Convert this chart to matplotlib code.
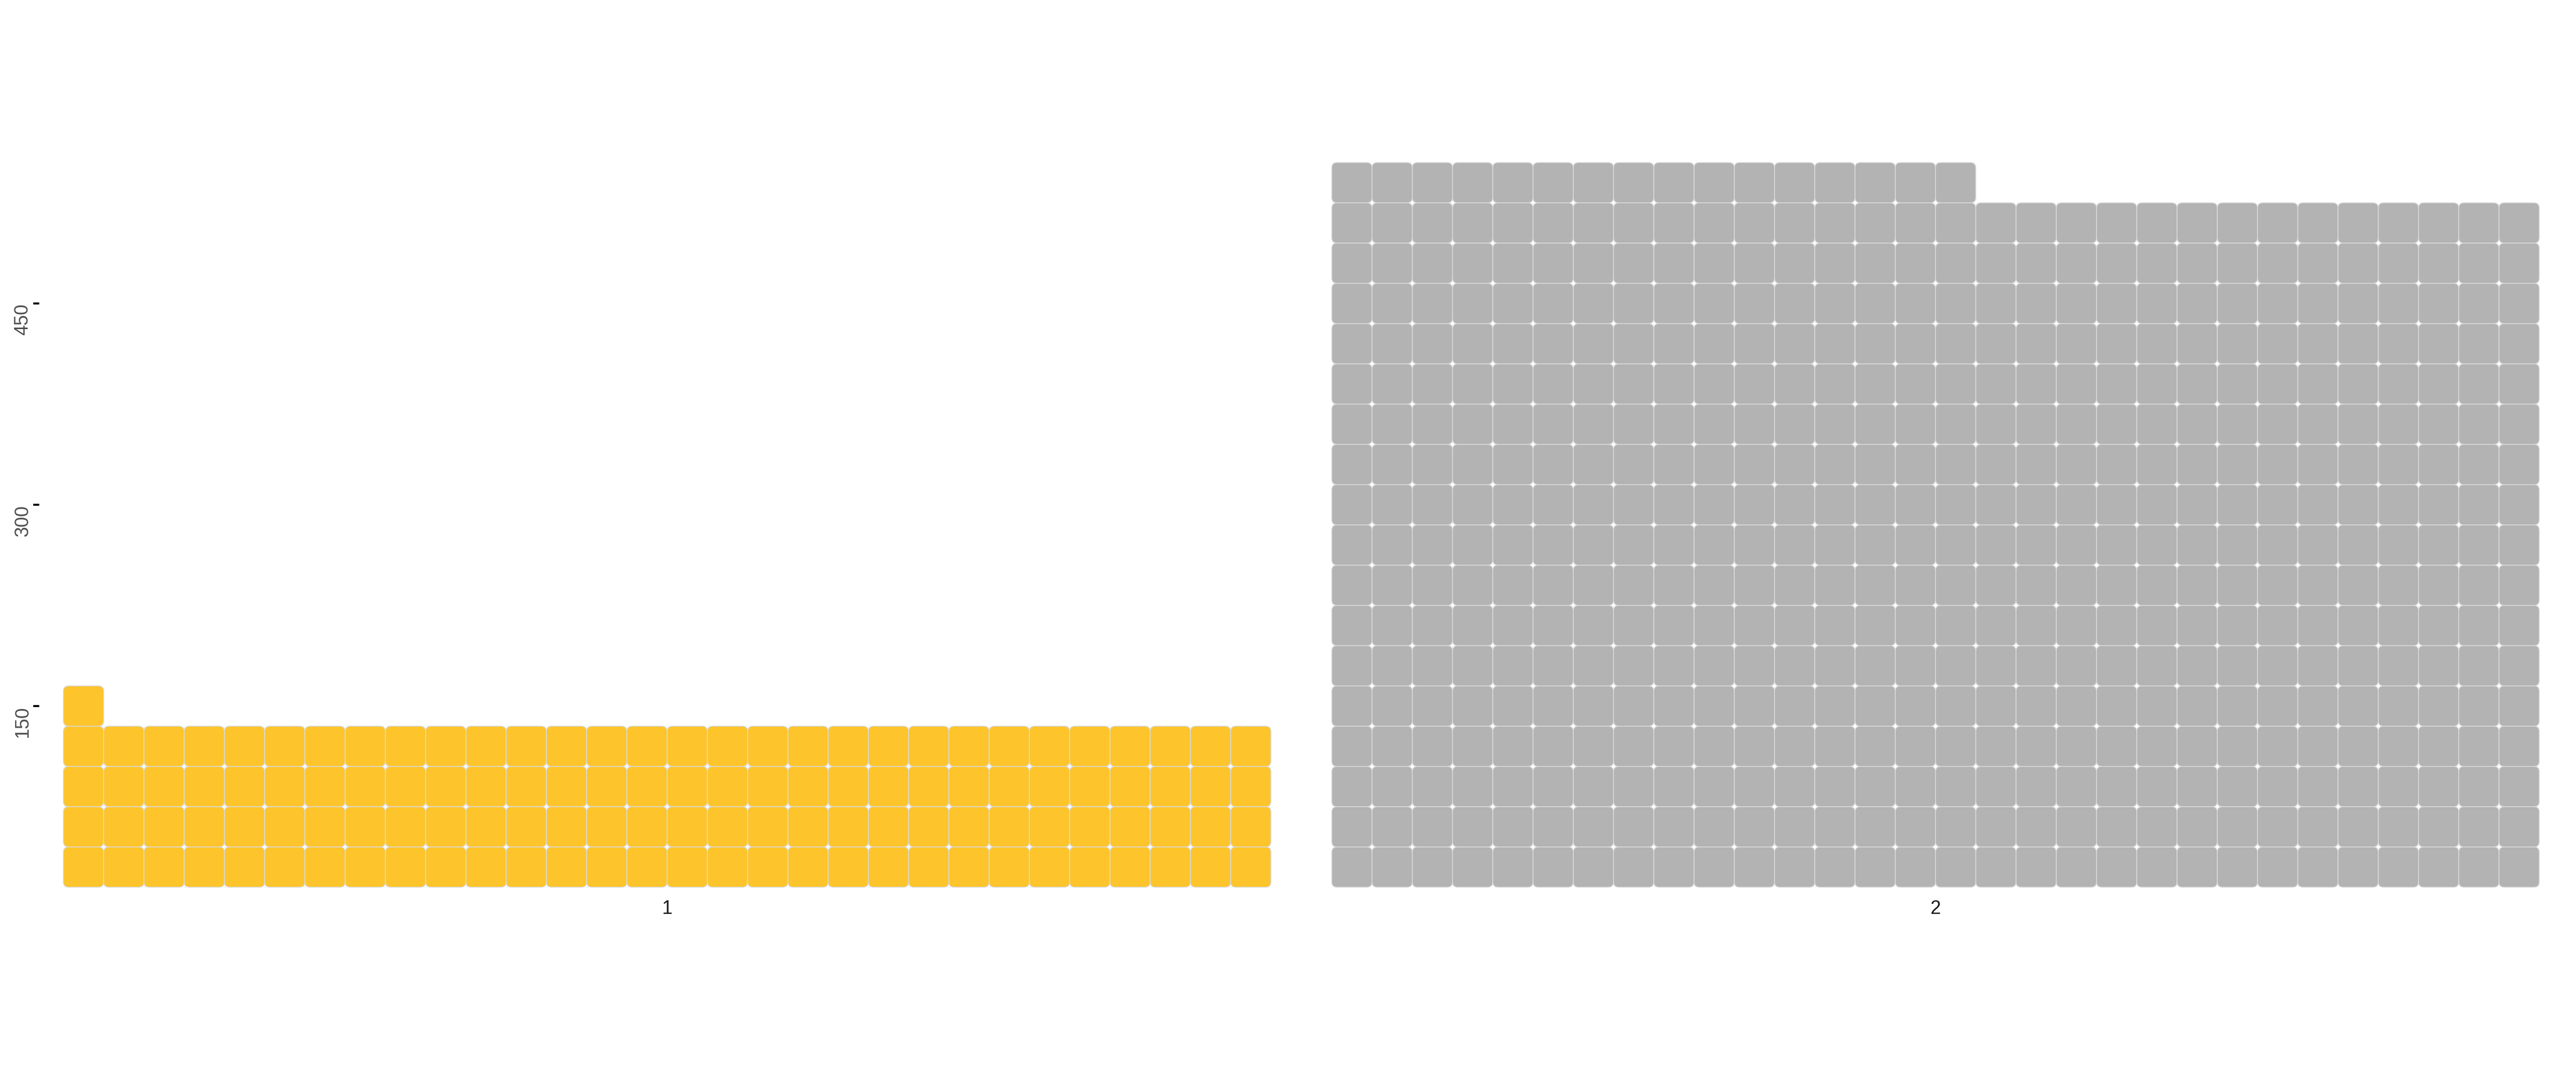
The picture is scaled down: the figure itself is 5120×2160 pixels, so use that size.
import matplotlib
matplotlib.use('Agg')
import matplotlib.pyplot as plt
from matplotlib.patches import FancyBboxPatch

# waffle bars: one tile per unit, 30 tiles per row, y counts in units
categories = ['1', '2']
counts = [121, 526]
colors = ['#FDC52B', '#B2B3B2']
n_cols = 30
y_ticks = [150, 300, 450]

W, H = 5120, 2160
dpi = 100
fig = plt.figure(figsize=(W / dpi, H / dpi), dpi=dpi)

px_per_col = 80
y0_px = 2160 - 1803          # pixel (from bottom) of y = 0
units_per_px = n_cols / px_per_col
ylim = (0, 600)
ax_h = (ylim[1] - ylim[0]) / units_per_px

lefts = [78, 2599]
axes = []
for i, (cat, n, col) in enumerate(zip(categories, counts, colors)):
    ax = fig.add_axes([lefts[i] / W, y0_px / H, (31.2 * px_per_col) / W, ax_h / H])
    ax.set_xlim(-0.6, 30.6)
    ax.set_ylim(*ylim)
    for s in ax.spines.values():
        s.set_visible(False)
    ax.set_xticks([])
    for k in range(n):
        row = k // n_cols + 1
        c = k % n_cols
        yc = row * n_cols
        p = FancyBboxPatch((c, yc - n_cols / 2), 1, n_cols,
                           boxstyle="round,pad=0,rounding_size=0.13",
                           mutation_aspect=n_cols,
                           facecolor=col, edgecolor='#D9D9D9', linewidth=1.2)
        ax.add_patch(p)
    ax.text(15, 15 - 25 * units_per_px, cat, ha='center', va='top',
            fontsize=27, color='#1A1A1A', family='Liberation Sans')
    if i == 0:
        ax.set_yticks(y_ticks)
        ax.set_yticklabels([str(t) for t in y_ticks], rotation=90,
                           va='top', ha='right', fontsize=27,
                           color='#4D4D4D', family='Liberation Sans')
        ax.tick_params(axis='y', direction='out', length=8.6, width=2.9,
                       color='black', pad=2)
    else:
        ax.set_yticks([])
    axes.append(ax)

fig.savefig('out.png', dpi=dpi, facecolor='white')
